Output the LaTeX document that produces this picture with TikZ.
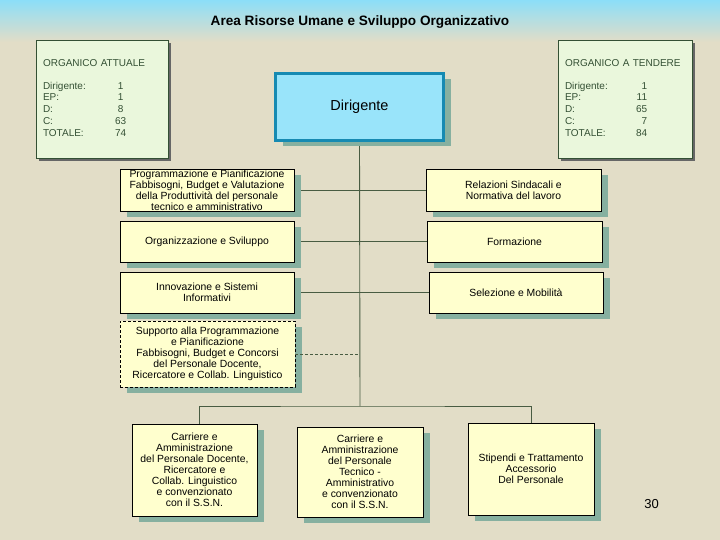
\documentclass[tikz,border=0pt]{standalone}
\usepackage{fontspec}
\setmainfont{Liberation Sans}
\usetikzlibrary{positioning, shadows}
\definecolor{sabbia}{RGB}{226,221,199}
\definecolor{cielo}{RGB}{140,222,248}
\definecolor{giallino}{RGB}{255,255,206}
\definecolor{verdino}{RGB}{234,247,220}
\definecolor{verdescuro}{RGB}{52,80,52}
\definecolor{ombra}{RGB}{134,176,160}
\definecolor{azzurro}{RGB}{153,228,250}
\definecolor{bordoblu}{RGB}{22,138,178}
\definecolor{filo}{RGB}{72,92,66}
\pgfdeclarelayer{sfondo}
\pgfdeclarelayer{fili}
\pgfsetlayers{sfondo,fili,main}

\begin{document}
\begin{tikzpicture}[
  x=1pt, y=-1pt,
  ufficio/.style={rectangle, draw=black, line width=0.8pt, fill=giallino,
    minimum width=174pt, minimum height=42pt, align=center, inner sep=0pt,
    font=\fontsize{10.4}{11}\selectfont,
    drop shadow={shadow xshift=7pt, shadow yshift=-6pt, fill=ombra, opacity=1}},
  organico/.style={rectangle, draw=verdescuro, line width=0.8pt, fill=verdino,
    text=verdescuro, minimum height=118pt, inner xsep=7pt, inner ysep=0pt,
    align=left, font=\fontsize{10}{11.8}\selectfont,
    drop shadow={shadow xshift=3pt, shadow yshift=-3pt, fill=black!60, opacity=1}},
  capo/.style={rectangle, draw=bordoblu, line width=3pt, fill=azzurro,
    minimum width=168pt, minimum height=67pt, font=\fontsize{14.5}{16}\selectfont,
    drop shadow={shadow xshift=7pt, shadow yshift=-6pt, fill=ombra, opacity=1}},
  linea/.style={draw=filo, line width=0.9pt}
]
  \useasboundingbox (0,0) rectangle (720,540);
  \begin{pgfonlayer}{sfondo}
    \fill[sabbia] (0,0) rectangle (720,540);
    \shade[top color=cielo, bottom color=sabbia] (0,0) rectangle (720,42);
  \end{pgfonlayer}

  \node[font=\bfseries\fontsize{13.6}{15}\selectfont] (titolo) at (360,22)
    {Area Risorse Umane e Sviluppo Organizzativo};

  \node[organico, text width=118pt] (attuale) at (102,99) {%
    \begin{tabular}{@{}p{72pt}@{}c@{}}
      \multicolumn{2}{@{}l@{}}{\rlap{ORGANICO ATTUALE}}\\[11pt]
      Dirigente: & 1\\ EP: & 1\\ D: & 8\\ C: & 63\\ TOTALE: & 74
    \end{tabular}};
  \node[organico, text width=120pt] (tendere) at (625,99) {%
    \begin{tabular}{@{}p{71pt}@{}r@{}}
      \multicolumn{2}{@{}l@{}}{\rlap{ORGANICO A TENDERE}}\\[11pt]
      Dirigente: & 1\\ EP: & 11\\ D: & 65\\ C: & 7\\ TOTALE: & 84
    \end{tabular}};

  \node[capo] (dirigente) at (359.5,107) {Dirigente};

  \node[ufficio] (programmazione) at (207,190)
    {Programmazione e Pianificazione\\Fabbisogni, Budget e Valutazione\\della Produttività del personale\\tecnico e amministrativo};
  \node[ufficio, minimum height=41pt] (organizzazione) at (207,241.5)
    {Organizzazione e Sviluppo};
  \node[ufficio, minimum height=41pt] (innovazione) at (207,292.5)
    {Innovazione e Sistemi\\Informativi};
  \node[ufficio, dashed, dash pattern=on 3pt off 2pt, minimum width=175pt,
    minimum height=66pt] (supporto) at (207.5,354)
    {Supporto alla Programmazione\\e Pianificazione\\Fabbisogni, Budget e Concorsi\\del Personale Docente,\\Ricercatore e Collab. Linguistico};

  \node[ufficio, minimum width=175pt] (relazioni) at (513.5,190)
    {Relazioni Sindacali e\\Normativa del lavoro};
  \node[ufficio, minimum width=175pt, minimum height=41pt] (formazione) at (514.5,241.5)
    {Formazione};
  \node[ufficio, minimum height=41pt] (selezione) at (516,292.5)
    {Selezione e Mobilità};

  \node[ufficio, minimum width=125pt, minimum height=92pt] (docenti) at (194.5,470)
    {Carriere e\\Amministrazione\\del Personale Docente,\\Ricercatore e\\Collab. Linguistico\\e convenzionato\\con il S.S.N.};
  \node[ufficio, minimum width=126pt, minimum height=90pt] (tecnici) at (360,472)
    {Carriere e\\Amministrazione\\del Personale\\Tecnico -\\Amministrativo\\e convenzionato\\con il S.S.N.};
  \node[ufficio, minimum width=126pt, minimum height=92pt] (stipendi) at (531,469)
    {Stipendi e Trattamento\\Accessorio\\Del Personale};

  \node[font=\fontsize{13}{15}\selectfont] (pagina) at (651.5,504) {30};

  \coordinate (nodo) at (360,406);
  \begin{pgfonlayer}{fili}
    \draw[linea] (dirigente.south) -- (nodo);
    \draw[linea] (programmazione.east) -- (relazioni.west);
    \draw[linea] (organizzazione.east) -- (formazione.west);
    \draw[linea] (innovazione.east) -- (selezione.west);
    \draw[linea] ([xshift=4.5pt]docenti.north) |- (nodo) -| (stipendi.north);
  \end{pgfonlayer}
  \draw[linea, dashed, dash pattern=on 3pt off 2pt] (supporto.east) -- (supporto.east -| nodo);
\end{tikzpicture}
\end{document}
